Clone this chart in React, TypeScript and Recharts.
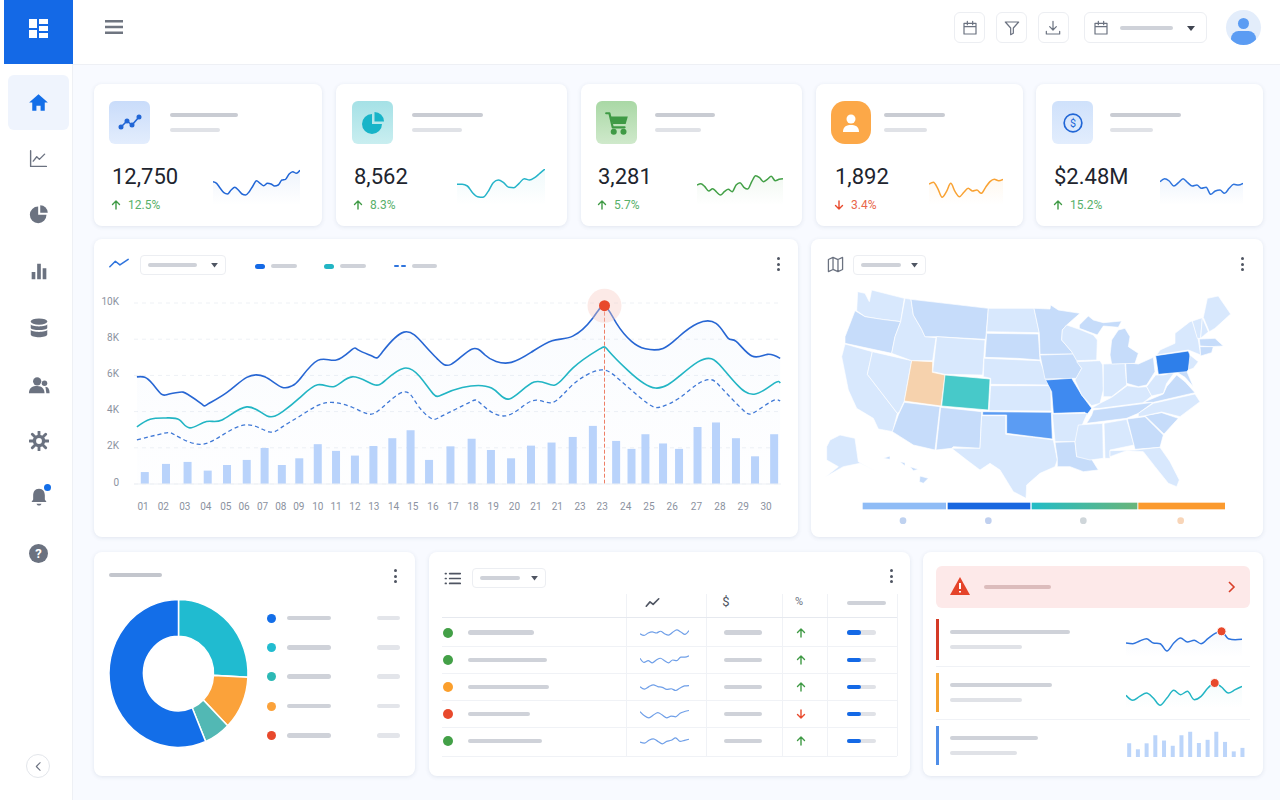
import React from "react";
import {
  ComposedChart, Bar, Line, Area, XAxis, YAxis, CartesianGrid, ReferenceLine, ReferenceDot,
  AreaChart, LineChart, BarChart, PieChart, Pie, Cell,
} from "recharts";

// ---------- main chart ----------
const dayLabels = ["01","02","03","04","05","06","07","08","09","10","11","12","13","14","15","16","17","18","19","20","21","21","23","23","24","25","26","27","28","29","30"];
const labelDays = [1,1.97,3.01,4.02,4.98,5.86,6.75,7.63,8.5,9.41,10.29,11.2,12.11,13.06,13.99,14.96,15.92,16.89,17.86,18.88,19.92,20.95,22.04,23.11,24.24,25.36,26.48,27.65,28.78,29.9,31];
const barDays = [1.08,2.1,3.14,4.11,5.04,5.99,6.85,7.68,8.52,9.41,10.29,11.2,12.09,13,13.88,14.77,15.8,16.82,17.75,18.72,19.68,20.67,21.69,22.66,23.78,24.52,25.19,26.04,26.81,27.7,28.59,29.55,30.47,31.39];
const barValues = [0.66,1.11,1.22,0.74,1.05,1.33,1.99,1.05,1.42,2.2,1.83,1.57,2.1,2.53,2.97,1.33,2.08,2.5,1.88,1.42,2.12,2.29,2.6,3.21,2.38,1.94,2.75,2.24,1.94,3.15,3.4,2.53,1.53,2.75];
const blueDays = [0.7,1.08,1.45,1.88,2.21,2.75,3.14,3.83,4.11,5.04,5.99,6.86,7.68,8.16,8.52,9.41,10.3,11.07,11.4,12.09,12.48,13.56,14.53,15.18,15.83,16.82,17.45,18,18.73,19.68,20.7,21.69,22.66,23.22,23.79,24.52,25.19,26.04,26.81,27.7,28.59,29.17,29.56,30.32,31.07,31.68];
const blueValues = [5.92,5.9,5.54,4.96,4.96,5.07,4.96,4.41,4.41,5.06,5.89,5.92,5.35,5.42,5.76,6.83,6.85,7.44,7.38,7.03,7.23,8.39,7.69,6.9,6.61,7.45,7.14,6.77,6.72,7.27,7.92,8.17,9.17,9.85,8.89,7.88,7.47,7.49,8.15,8.87,8.87,8.06,7.88,7.07,7.16,6.94];
const tealDays = [0.7,1.34,2.1,2.75,3.25,4.05,4.8,5.99,6.97,7.72,8.52,9.41,10.21,11.07,12.09,12.7,13.56,14.32,14.97,15.4,16.37,17.78,18.64,19.83,20.8,21.69,22.97,23.4,24.37,25.67,26.81,27.7,28.37,28.91,29.56,30.43,31.4,31.68];
const tealValues = [3.16,3.58,3.65,3.54,3.1,3.45,3.54,4.26,3.76,4,4.74,5.48,5.39,5.92,5.5,5.76,6.4,5.94,4.98,4.93,5.33,5.3,4.7,5.63,5.46,6.4,7.45,7.38,6.25,5.3,5.94,6.73,6.92,6.4,5.54,4.96,5.57,5.57];
const dashDays = [0.7,1.99,2.53,3.61,4.7,5.99,7.07,7.72,8.52,9.41,10.21,11.07,11.83,12.48,13.56,14.21,14.86,15.4,16.7,17.24,18.43,19.72,20.7,21.69,22.97,23.94,25.24,25.93,26.81,27.7,28.37,28.91,29.88,30.43,31.29,31.68];
const dashValues = [2.44,2.8,2.71,2.2,2.62,3.27,2.88,3.17,3.73,4.34,4.5,4.24,3.87,4.19,5.09,4.37,3.63,3.76,4.5,4.46,3.76,4.59,4.5,5.48,6.29,5.76,4.5,4.26,4.74,5.52,5.76,5.24,4.1,3.95,4.58,4.58];
const peakDay = 23.22;
const peakValue = 9.85;
const yTicks = [0,2,4,6,8,10];

const barRows = barDays.map((day, i) => ({ day, visits: barValues[i] }));
const zip = (days: number[], vals: number[]) => days.map((day, i) => ({ day, v: vals[i] }));

// ---------- KPI cards ----------
const kpiValues = ["12,750","8,562","3,281","1,892","$2.48M"];
const kpiChanges = ["12.5%","8.3%","5.7%","3.4%","15.2%"];
const spark1 = [70,65,50,37,33,45,53,45,33,30,40,57,73,65,58,65,63,57,60,75,77,93,100,95,104];
const spark2 = [62,62,57,37,25,23,40,67,75,67,53,52,65,79,75,82,95,108];
const spark3 = [60,64,55,42,49,39,30,40,47,40,60,67,53,48,70,88,82,70,77,86,73,77,79];
const spark4 = [63,68,50,23,40,65,40,25,38,50,42,45,35,53,70,77,73,77];
const spark5 = [70,79,72,57,67,79,67,57,60,50,53,32,42,45,35,50,62,60,65];

// ---------- donut ----------
const donutNames = ["Teal","Orange","Sea","Blue"];
const donutValues = [25.8,11.7,6.1,56.4];
const donutColors = ["#20bbd0","#fba23a","#52b8b4","#136ee8"];

// ---------- table ----------
const rowSparks = [
  [18,13,20,23,20,25,18,14,22,29,23,16,27],
  [25,13,18,12,20,25,18,12,20,18,28,28,32],
  [21,14,21,26,21,19,13,15,10,17,23,24],
  [27,15,9,17,24,17,9,14,12,22,27,30],
  [17,14,22,26,19,12,19,22,29,19,22,25],
];
const rowColors = ["#43a047","#43a047","#fb9f2c","#e8492c","#43a047"];
const rowUp = [true,true,true,false,true];
const rowPillEnds = [534,547,549,530,542];

// ---------- alerts ----------
const alertA = [42,40,48,55,42,40,18,42,57,45,50,40,55,70,77,55,52,53];
const alertB = [38,23,35,45,30,8,30,53,40,50,25,35,60,75,63,45,55,65];
const alertC = [39,22,39,62,47,32,62,72,40,49,72,43,16,26];

// ---------- map ----------
const L = "#d8e8fd", M = "#c6dcfa";
const mapStates: [string, string, string][] = [
  ["WA",L,"143,155 165,160 178,185 185,150 283,175 272,245 215,238 165,230 140,212"],
  ["OR",M,"135,212 165,230 215,238 272,245 255,290 245,340 105,310 105,290"],
  ["CA",L,"95,350 105,312 187,335 172,403 262,520 248,575 205,567 190,535 140,505 115,450"],
  ["NV",L,"187,335 305,362 283,483 268,515 262,520 172,403"],
  ["ID",L,"285,175 303,178 310,225 335,268 345,290 378,293 368,362 305,362 245,340 255,290 272,245"],
  ["MT",M,"303,178 535,205 527,298 378,290 345,290 335,268 310,225"],
  ["WY",L,"380,290 525,300 518,405 405,403 368,395"],
  ["UT","#f6d2ad","305,362 368,365 367,397 405,405 393,498 283,483"],
  ["CO","#47c9c9","405,405 540,417 535,510 395,498"],
  ["AZ",M,"283,487 390,500 375,630 310,615 247,575 265,525"],
  ["NM",M,"392,502 515,515 510,625 430,620 425,625 378,630"],
  ["ND",L,"535,205 672,205 688,278 530,275"],
  ["SD",M,"530,280 685,282 690,360 622,355 525,352"],
  ["NE",L,"522,355 690,362 705,400 722,435 542,433 542,415 520,410"],
  ["KS",L,"542,437 722,437 724,513 537,512"],
  ["OK","#5b9cf3","518,515 724,517 727,597 670,590 590,580 590,525 518,525"],
  ["TX",L,"515,527 587,527 587,583 670,592 730,600 742,660 735,680 690,700 650,735 648,775 610,755 570,690 540,670 510,690 470,660 425,625 510,625"],
  ["MN",M,"672,205 720,207 722,195 745,210 810,220 770,255 757,270 755,300 785,335 790,342 690,343 688,280"],
  ["IA",M,"690,345 790,342 815,385 800,415 705,417"],
  ["MO","#3f8af0","707,420 785,415 815,465 845,505 830,525 825,517 730,520 725,455"],
  ["AR",L,"727,522 832,520 810,570 795,605 735,605"],
  ["LA",M,"735,607 795,605 800,650 840,650 865,690 820,695 780,680 742,680 742,655"],
  ["WI",L,"757,270 770,255 808,268 850,285 862,300 860,360 800,362 785,335 755,300"],
  ["IL",L,"800,365 870,362 878,375 880,450 870,490 845,497 815,465 795,420 815,385"],
  ["IN",L,"880,372 945,370 950,435 905,470 880,470"],
  ["OH",M,"947,368 985,372 1030,352 1035,395 1010,435 985,440 950,430"],
  ["MI",M,"900,345 905,300 925,270 945,265 960,290 955,320 985,340 975,370 905,372"],
  ["MIU",M,"808,255 835,228 850,240 880,248 935,243 925,262 880,258 862,285 808,265"],
  ["KY",L,"845,505 870,490 905,472 952,437 985,442 1010,440 1025,468 1000,488 870,505"],
  ["TN",M,"830,550 845,525 850,510 1030,487 985,520 950,535"],
  ["MS",L,"805,555 878,550 880,655 840,660 800,650 795,605"],
  ["AL",L,"882,550 950,538 972,615 900,630 900,655 885,655"],
  ["GA",M,"952,537 1005,530 1060,585 1050,622 975,628"],
  ["FL",L,"900,632 975,630 1050,622 1080,665 1108,720 1100,740 1075,730 1035,680 1000,635 950,632 900,650"],
  ["SC",M,"1005,527 1055,518 1105,535 1062,582"],
  ["NC",L,"985,520 1030,490 1155,462 1170,485 1110,530 1055,516 1005,527 985,530"],
  ["VA",M,"1000,487 1060,462 1070,440 1100,405 1125,425 1155,458 1030,487"],
  ["WV",L,"1010,440 1037,405 1060,405 1095,395 1070,430 1060,460 1025,468"],
  ["MD",M,"1060,403 1130,393 1150,440 1125,412 1095,393"],
  ["PA","#2e7fea","1037,347 1135,333 1150,372 1130,395 1045,403"],
  ["NJ",L,"1140,345 1165,365 1150,385 1135,390"],
  ["NY",L,"1050,330 1095,310 1095,280 1140,245 1147,243 1165,300 1172,345 1135,330 1040,345"],
  ["VT",L,"1147,243 1177,233 1172,295 1162,295"],
  ["NH",L,"1177,233 1195,275 1172,295"],
  ["ME",L,"1192,175 1225,168 1262,222 1215,265 1198,275 1180,232"],
  ["MA",M,"1168,297 1215,295 1240,318 1200,320 1170,318"],
  ["CT",M,"1170,320 1210,320 1205,338 1172,348"],
  ["AK",L,"60,600 90,585 135,595 145,665 200,695 150,670 100,680 45,712 85,680 50,660 50,620"],
  ["HI1",M,"220,655 240,648 240,658"],
  ["HI2",M,"270,665 285,668 285,678"],
  ["HI3",M,"300,680 325,688 310,692"],
  ["HI4",M,"330,708 355,715 340,730 328,725"],
];

const FONT = "Roboto, sans-serif";

const box = (x: number, y: number, w: number, h: number, extra: React.CSSProperties = {}): React.CSSProperties => ({
  position: "absolute", left: x, top: y, width: w, height: h, ...extra,
});

const Pill = ({ x1, x2, y, c = "#cfd2d9", h = 5 }: { x1: number; x2: number; y: number; c?: string; h?: number }) => (
  <div style={box(x1, y - h / 2, x2 - x1, h, { background: c, borderRadius: h })} />
);

const Card = ({ x1, x2, y1, y2 }: { x1: number; x2: number; y1: number; y2: number }) => (
  <div style={box(x1, y1, x2 - x1, y2 - y1, { background: "#fff", borderRadius: 8, boxShadow: "0 1px 4px rgba(60,80,120,0.12)" })} />
);

const Ico = ({ cx, cy, s = 20, children, color = "#6b7280", vb = 24 }: any) => (
  <svg viewBox={`0 0 ${vb} ${vb}`} style={box(cx - s / 2, cy - s / 2, s, s)} fill="none" stroke={color} strokeWidth={2} strokeLinecap="round" strokeLinejoin="round">{children}</svg>
);

const Kebab = ({ x, y }: { x: number; y: number }) => (
  <>{[-5.3, 0, 5.3].map((d) => <div key={d} style={box(x - 1.5, y + d - 1.5, 3, 3, { background: "#4f5562", borderRadius: 3 })} />)}</>
);

const Dropdown = ({ x1, x2, y1, pillEnd }: { x1: number; x2: number; y1: number; pillEnd: number }) => (
  <>
    <div style={box(x1, y1, x2 - x1, 20, { background: "#fff", border: "1px solid #eceef2", borderRadius: 4, boxSizing: "border-box" })} />
    <Pill x1={x1 + 8} x2={pillEnd} y={y1 + 10} h={4} />
    <svg style={box(x2 - 15.5, y1 + 8, 7, 4.5)} viewBox="0 0 9 6"><path d="M0 0H9L4.5 6Z" fill="#4f5562" /></svg>
  </>
);

const Spark = ({ data, x, y, w, h, color, id, max = 108 }: any) => {
  const rows = data.map((v: number, i: number) => ({ i, v }));
  return (
    <div style={box(x, y, w, h)}>
      <AreaChart width={w} height={h} data={rows} margin={{ top: 0, right: 0, bottom: 0, left: 0 }}>
        <defs>
          <linearGradient id={id} x1="0" y1="0" x2="0" y2="1">
            <stop offset="0" stopColor={color} stopOpacity={0.12} />
            <stop offset="1" stopColor={color} stopOpacity={0} />
          </linearGradient>
        </defs>
        <XAxis dataKey="i" hide type="number" domain={["dataMin", "dataMax"]} />
        <YAxis hide domain={[0, max]} />
        <Area type="monotone" dataKey="v" stroke={color} strokeWidth={1.5} fill={`url(#${id})`} isAnimationActive={false} dot={false} />
      </AreaChart>
    </div>
  );
};

const RowSpark = ({ data, cy }: { data: number[]; cy: number }) => {
  const rows = data.map((v, i) => ({ i, v }));
  return (
    <div style={box(640, cy - 7, 49, 14)}>
      <LineChart width={49} height={14} data={rows} margin={{ top: 0, right: 0, bottom: 0, left: 0 }}>
        <XAxis dataKey="i" hide type="number" domain={["dataMin", "dataMax"]} />
        <YAxis hide domain={[0, 40]} />
        <Line type="monotone" dataKey="v" stroke="#6f9fe8" strokeWidth={1.2} dot={false} isAnimationActive={false} />
      </LineChart>
    </div>
  );
};

const AlertSpark = ({ data, y, color, peak, id }: { data: number[]; y: number; color: string; peak: number; id: string }) => {
  const rows = data.map((v, i) => ({ i, v }));
  return (
    <div style={box(1126, y, 116, 30)}>
      <AreaChart width={116} height={30} data={rows} margin={{ top: 0, right: 0, bottom: 0, left: 0 }}>
        <defs>
          <linearGradient id={id} x1="0" y1="0" x2="0" y2="1">
            <stop offset="0" stopColor={color} stopOpacity={0.08} />
            <stop offset="1" stopColor={color} stopOpacity={0} />
          </linearGradient>
        </defs>
        <XAxis dataKey="i" hide type="number" domain={["dataMin", "dataMax"]} />
        <YAxis hide domain={[0, 90]} />
        <Area type="monotone" dataKey="v" stroke={color} strokeWidth={1.5} fill={`url(#${id})`} isAnimationActive={false} dot={false} />
        <ReferenceDot x={peak} y={data[peak]} r={4.5} fill="#e8492c" stroke="#fff" strokeWidth={1} ifOverflow="visible" />
      </AreaChart>
    </div>
  );
};

const NavIcons = () => (
  <>
    <Ico cx={38.5} cy={102} s={25} color="#136ee8"><path d="M3 12L12 4l9 8h-3v8h-4v-5h-4v5H6v-8z" fill="#136ee8" stroke="none" /></Ico>
    <Ico cx={38.5} cy={158} s={21}><path d="M3 3v18h18M6 15l4-5 3 3 6-6" strokeWidth={1.6} /></Ico>
    <Ico cx={38.5} cy={214} s={20}><path d="M11 3a10 10 0 1 0 10 10H11z" fill="#6b7280" stroke="none" /><path d="M13.5 1.5a9 9 0 0 1 9 9h-9z" fill="#6b7280" stroke="none" /></Ico>
    <Ico cx={38.5} cy={271} s={22}><path d="M4 13h4v8H4zM10 4h4v17h-4zM16 9h4v12h-4z" fill="#6b7280" stroke="none" /></Ico>
    <Ico cx={38.5} cy={328} s={22}><ellipse cx="12" cy="5" rx="9" ry="3.5" fill="#6b7280" stroke="none" /><path d="M3 8c1 3 17 3 18 0v4c-1 3-17 3-18 0zM3 14c1 3 17 3 18 0v5c-1 4-17 4-18 0z" fill="#6b7280" stroke="none" /></Ico>
    <Ico cx={38.5} cy={385} s={22}><circle cx="10" cy="8" r="4.5" fill="#6b7280" stroke="none" /><path d="M1 21c0-6 4-8 9-8s8 3 8 8z" fill="#6b7280" stroke="none" /><circle cx="18" cy="10" r="3" fill="#6b7280" stroke="none" /><path d="M19 14c3 0 4.5 3 4.5 7H20z" fill="#6b7280" stroke="none" /></Ico>
    <Ico cx={38.5} cy={441} s={20}><circle cx="12" cy="12" r="5.5" strokeWidth={4} /><path d="M12 1v4M12 19v4M1 12h4M19 12h4M4 4l3 3M17 17l3 3M20 4l-3 3M7 17l-3 3" strokeWidth={3.4} /></Ico>
    <Ico cx={38.5} cy={497} s={20}><path d="M12 2c-5 0-7 4-7 8v5l-2 3h18l-2-3v-5c0-4-2-8-7-8z" fill="#6b7280" stroke="none" /><path d="M9 20c1 3 5 3 6 0z" fill="#6b7280" stroke="none" /></Ico>
    <div style={box(44, 484, 7, 7, { background: "#136ee8", borderRadius: 4 })} />
    <svg style={box(29, 544, 19, 19)} viewBox="0 0 19 19"><circle cx="9.5" cy="9.5" r="9.5" fill="#6b7280" /><text x="9.5" y="14" textAnchor="middle" fontSize="13" fontWeight="700" fontFamily={FONT} fill="#fff">?</text></svg>
    <div style={box(26, 754, 24, 24, { background: "#fff", border: "1px solid #e3e6eb", borderRadius: 12, boxSizing: "border-box" })} />
    <Ico cx={38} cy={766} s={13}><path d="M15 5l-7 7 7 7" /></Ico>
  </>
);

const KPI_LAYOUT = [
  { card: [94,322], tile: [109,150], tileBg: "linear-gradient(#c9dcfa,#e3edfd)", p1: [170,238], p2: [170,220], vx: 112, sx: 213, sw: 87, color: "#2166d6", spark: spark1 },
  { card: [336,567], tile: [352,393], tileBg: "linear-gradient(#a5e1e6,#c9eef0)", p1: [412,483], p2: [412,462], vx: 354, sx: 457, sw: 88, color: "#25b4c9", spark: spark2 },
  { card: [581,802], tile: [596,637], tileBg: "linear-gradient(#a9d8a5,#cfe9cb)", p1: [655,715], p2: [655,701], vx: 598, sx: 697, sw: 86, color: "#43a047", spark: spark3 },
  { card: [816,1023], tile: [831,871], tileBg: "#fca848", p1: [884,945], p2: [884,927], vx: 835, sx: 929, sw: 74, color: "#f9a233", spark: spark4 },
  { card: [1036,1263], tile: [1052,1093], tileBg: "linear-gradient(#cfe1fb,#e2edfd)", p1: [1110,1181], p2: [1110,1153], vx: 1054, sx: 1160, sw: 83, color: "#2f74dd", spark: spark5 },
];

const KpiIcon = ({ i, cx }: { i: number; cx: number }) => {
  const cy = 122.5;
  if (i === 0) return <Ico cx={cx} cy={cy} s={24} color="#2166d6"><path d="M3 16l6-6 5 4 7-8" strokeWidth={1.6} /><circle cx="3" cy="16" r="1.5" fill="#2166d6" /><circle cx="9" cy="10" r="1.5" fill="#2166d6" /><circle cx="14" cy="14" r="1.5" fill="#2166d6" /><circle cx="21" cy="6" r="1.5" fill="#2166d6" /></Ico>;
  if (i === 1) return <Ico cx={cx} cy={cy} s={24}><path d="M11 3a10 10 0 1 0 10 10H11z" fill="#18b4c8" stroke="none" /><path d="M13.5 1a9.5 9.5 0 0 1 9.5 9.5h-9.500z" fill="#18b4c8" stroke="none" /></Ico>;
  if (i === 2) return <Ico cx={cx} cy={cy} s={26} color="#3f9a45"><path d="M2 3h3l3 13h11" strokeWidth={2} /><path d="M6 6h16l-2 7H8z" fill="#3f9a45" stroke="none" /><circle cx="9" cy="20" r="1.8" fill="#3f9a45" /><circle cx="18" cy="20" r="1.8" fill="#3f9a45" /></Ico>;
  if (i === 3) return <Ico cx={cx} cy={cy} s={24}><circle cx="12" cy="8" r="4.5" fill="#fff" stroke="none" /><path d="M4 21c0-6 4-7 8-7s8 1 8 7z" fill="#fff" stroke="none" /></Ico>;
  return <svg style={box(cx - 10, cy - 10, 20, 20)} viewBox="0 0 26 26"><circle cx="13" cy="13" r="11.5" fill="none" stroke="#2166d6" strokeWidth="2.2" /><text x="13" y="18" textAnchor="middle" fontSize="14" fontFamily={FONT} fill="#2166d6">$</text></svg>;
};

const Arrow = ({ x, y, up, c }: { x: number; y: number; up: boolean; c: string }) => (
  <svg style={box(x - 5, y - 5, 10, 10)} viewBox="0 0 10 10" fill="none" stroke={c} strokeWidth="1.4" strokeLinecap="round" strokeLinejoin="round">
    {up ? <path d="M5 9V1M1.5 4.5L5 1l3.5 3.5" /> : <path d="M5 1v8M1.5 5.5L5 9l3.5-3.5" />}
  </svg>
);

const FixedBar = (p: any) => (
  <rect x={p.x + p.width / 2 - 4} y={p.y} width={8} height={p.height} fill="#b9d3fb" />
);

const MainChart = () => (
  <div style={box(94, 240, 704, 300)}>
    <ComposedChart width={704} height={300} data={barRows} margin={{ top: 63, right: 17, bottom: 26, left: 0 }}>
      <defs>
        <linearGradient id="mainFill" x1="0" y1="0" x2="0" y2="1">
          <stop offset="0" stopColor="#3b82e8" stopOpacity={0.05} />
          <stop offset="1" stopColor="#3b82e8" stopOpacity={0.01} />
        </linearGradient>
      </defs>
      <CartesianGrid vertical={false} stroke="#eef1f5" strokeDasharray="4 4" />
      <XAxis
        dataKey="day" type="number" domain={[0.56, 31.72]} allowDataOverflow ticks={labelDays} interval={0} height={30}
        tickFormatter={(_v: number, i: number) => dayLabels[i]} axisLine={{ stroke: "#eef1f5" }} tickLine={false}
        tick={{ fill: "#8b92a0", fontSize: 10, fontFamily: FONT }} tickMargin={13}
      />
      <YAxis
        width={40} domain={[0, 10]} ticks={yTicks} tickFormatter={(v: number) => (v === 0 ? "0" : `${v}K`)} axisLine={false} tickLine={false}
        tick={{ fill: "#8b92a0", fontSize: 10, fontFamily: FONT, dy: -2 }} tickMargin={9}
      />
      <Area data={zip(blueDays, blueValues)} dataKey="v" type="natural" stroke="none" fill="url(#mainFill)" isAnimationActive={false} />
      <Bar dataKey="visits" fill="#b9d3fb" shape={FixedBar} isAnimationActive={false} />
      <Line data={zip(blueDays, blueValues)} dataKey="v" type="natural" stroke="#2766d3" strokeWidth={1.6} dot={false} isAnimationActive={false} />
      <Line data={zip(tealDays, tealValues)} dataKey="v" type="natural" stroke="#22b5c4" strokeWidth={1.6} dot={false} isAnimationActive={false} />
      <Line data={zip(dashDays, dashValues)} dataKey="v" type="natural" stroke="#3f78d6" strokeWidth={1.3} strokeDasharray="4 3" dot={false} isAnimationActive={false} />
      <ReferenceLine segment={[{ x: peakDay, y: peakValue }, { x: peakDay, y: 0 }]} stroke="#ee7f66" strokeDasharray="4 2" strokeWidth={1} />
      <ReferenceDot x={peakDay} y={peakValue} r={17} fill="#f6c9c0" fillOpacity={0.38} stroke="none" ifOverflow="visible" />
      <ReferenceDot x={peakDay} y={peakValue} r={5.5} fill="#e8492c" stroke="none" ifOverflow="visible" />
    </ComposedChart>
  </div>
);

const UsMap = () => (
  <svg style={box(810, 240, 454, 300)} viewBox="0 0 1362 900">
    {mapStates.map(([id, c, pts]) => (
      <polygon key={id} points={pts} fill={c} stroke="#fff" strokeWidth={2} strokeLinejoin="round" />
    ))}
    <defs>
      <linearGradient id="legendTeal"><stop offset="0" stopColor="#22bcc6" /><stop offset="1" stopColor="#69b57a" /></linearGradient>
    </defs>
    <rect x={158} y={788} width={250} height={20} fill="#8fbcf6" />
    <rect x={413} y={788} width={248} height={20} fill="#1867e0" />
    <rect x={665} y={788} width={317} height={20} fill="url(#legendTeal)" />
    <rect x={985} y={788} width={260} height={20} fill="#fb9a2f" />
    <circle cx={279} cy={842} r={10} fill="#bfd2f0" />
    <circle cx={535} cy={842} r={10} fill="#c0d0ef" />
    <circle cx={820} cy={842} r={10} fill="#cfd6da" />
    <circle cx={1112} cy={842} r={10} fill="#f8d5b8" />
  </svg>
);

const Donut = () => (
  <div style={{ ...box(104, 599, 150, 150), transform: "scaleY(1.065)", transformOrigin: "50% 50%" }}>
    <PieChart width={150} height={150} margin={{ top: 0, right: 0, bottom: 0, left: 0 }}>
      <Pie
        data={donutNames.map((name, i) => ({ name, value: donutValues[i] }))} dataKey="value" cx={74.5} cy={74.5}
        innerRadius={35} outerRadius={69.5} startAngle={90} endAngle={-270} stroke="#fff" strokeWidth={1.5} isAnimationActive={false}
      >
        {donutNames.map((n, i) => <Cell key={n} fill={donutColors[i]} />)}
      </Pie>
    </PieChart>
  </div>
);

export default function App() {
  const tableRowsY = [632.7, 660, 687, 714, 741];
  return (
    <div style={{ position: "fixed", left: 0, top: 0, width: 1280, height: 800, overflow: "hidden", background: "#f8faff", fontFamily: FONT }}>
      {/* header + sidebar */}
      <div style={box(0, 0, 1280, 65, { background: "#fff", borderBottom: "1px solid #eef0f5", boxSizing: "border-box" })} />
      <div style={box(0, 0, 73, 800, { background: "#fff", borderRight: "1px solid #eef0f5", boxSizing: "border-box" })} />
      <div style={box(4, 0, 69, 64, { background: "#1469e6" })} />
      <svg style={box(29, 19, 19, 19)} viewBox="0 0 19 19"><path d="M0 0h8v9H0zM10 0h9v5h-9zM0 11h8v8H0zM10 7h9v5h-9zM10 14h9v5h-9z" fill="#fff" /></svg>
      <div style={box(8, 75, 61, 55, { background: "#eff4fd", borderRadius: 6 })} />
      <NavIcons />
      <svg style={box(105, 20, 18, 14)} viewBox="0 0 18 14"><path d="M0 1.2h18M0 7h18M0 12.800h18" stroke="#6f7580" strokeWidth="2.400" /></svg>

      {/* top right */}
      {[954, 996, 1038].map((x) => <div key={x} style={box(x, 12, 31, 31, { background: "#fff", border: "1px solid #eceef2", borderRadius: 6, boxSizing: "border-box" })} />)}
      <Ico cx={970} cy={28} s={16}><path d="M3 5h18v16H3zM3 10h18M8 2v5M16 2v5" strokeWidth={1.8} /></Ico>
      <Ico cx={1012} cy={28} s={16}><path d="M2 3h20l-8 9v8l-4 2V12z" strokeWidth={1.8} /></Ico>
      <Ico cx={1053} cy={28} s={16}><path d="M12 2v13M7 10l5 5 5-5M2 17v4h20v-4" strokeWidth={1.8} /></Ico>
      <div style={box(1084, 12, 123, 31, { background: "#fff", border: "1px solid #eceef2", borderRadius: 6, boxSizing: "border-box" })} />
      <Ico cx={1101} cy={28} s={16}><path d="M3 5h18v16H3zM3 10h18M8 2v5M16 2v5" strokeWidth={1.8} /></Ico>
      <Pill x1={1120} x2={1173} y={27.5} h={4} />
      <svg style={box(1187, 25.5, 8, 5)} viewBox="0 0 10 6"><path d="M0 0H10L5 6Z" fill="#3f4450" /></svg>
      <div style={box(1226, 10, 35, 35, { background: "#e3edfb", borderRadius: 18, overflow: "hidden" })}>
        <div style={box(12, 8, 11, 11, { background: "#5b9cf3", borderRadius: 6 })} />
        <div style={box(5, 21, 25, 14, { background: "#5b9cf3", borderRadius: "12px 12px 10px 10px" })} />
      </div>

      {/* KPI cards */}
      {KPI_LAYOUT.map((k, i) => (
        <React.Fragment key={i}>
          <Card x1={k.card[0]} x2={k.card[1]} y1={84} y2={226} />
          <div style={box(k.tile[0], 101, k.tile[1] - k.tile[0], 43, { background: k.tileBg, borderRadius: i === 3 ? 14 : 6 })} />
          <KpiIcon i={i} cx={(k.tile[0] + k.tile[1]) / 2} />
          <Pill x1={k.p1[0]} x2={k.p1[1]} y={114.5} h={4} c="#c9ccd3" />
          <Pill x1={k.p2[0]} x2={k.p2[1]} y={130} h={4} c="#e0e2e7" />
          <div style={{ ...box(k.vx, 163, 100, 28), fontSize: 22, lineHeight: "28px", color: "#20242e" }}>{kpiValues[i]}</div>
          <Arrow x={k.vx + 4} y={205} up={i !== 3} c={i === 3 ? "#e8492c" : "#3f9a45"} />
          <div style={{ ...box(k.vx + 16, 198, 60, 14), fontSize: 12, lineHeight: "14px", color: i === 3 ? "#e8664b" : "#58b06a" }}>{kpiChanges[i]}</div>
          <Spark data={k.spark} x={k.sx} y={169} w={k.sw} h={36} color={k.color} id={`spark${i}`} />
        </React.Fragment>
      ))}

      {/* main chart card */}
      <Card x1={94} x2={798} y1={239} y2={537} />
      <MainChart />
      <Ico cx={119} cy={264} s={22} color="#2f74dd"><path d="M2 15l6-6 5 4 9-6" strokeWidth={1.7} /></Ico>
      <Dropdown x1={140} x2={226} y1={255} pillEnd={197} />
      <Pill x1={255} x2={265} y={266} c="#1469e6" />
      <Pill x1={271} x2={297} y={266} h={4.5} />
      <Pill x1={324} x2={334} y={266} c="#22b5c4" />
      <Pill x1={340} x2={366} y={266} h={4.5} />
      <Pill x1={394} x2={399} y={266} c="#2f74dd" h={2} />
      <Pill x1={401} x2={406} y={266} c="#2f74dd" h={2} />
      <Pill x1={412} x2={437} y={266} h={4.5} />
      <Kebab x={778} y={264} />

      {/* map card */}
      <Card x1={811} x2={1263} y1={239} y2={537} />
      <UsMap />
      <Ico cx={835} cy={264} s={17}><path d="M2 5l6.5-3 7 3L22 2v17l-6.5 3-7-3L2 22zM8.5 2v17M15.5 5v17" strokeWidth={1.8} /></Ico>
      <Dropdown x1={853} x2={926} y1={255} pillEnd={901} />
      <Kebab x={1242} y={264} />

      {/* donut card */}
      <Card x1={94} x2={415} y1={552} y2={776} />
      <Pill x1={109} x2={162} y={574.5} h={4} c="#c3c6cd" />
      <Kebab x={395} y={576} />
      <Donut />
      {["#136ee8", "#22bcd0", "#2cb9b5", "#fba23a", "#e8492c"].map((c, i) => {
        const y = [618, 647.5, 676.7, 706, 735.7][i];
        return (
          <React.Fragment key={c}>
            <div style={box(266.5, y - 4.5, 9, 9, { background: c, borderRadius: 5 })} />
            <Pill x1={287} x2={331} y={y} h={4.5} />
            <Pill x1={377} x2={400} y={y} h={4.5} c="#e3e5ea" />
          </React.Fragment>
        );
      })}

      {/* table card */}
      <Card x1={429} x2={910} y1={552} y2={776} />
      <Ico cx={452} cy={578} s={17} color="#4f5562"><path d="M8 5h15M8 12h15M8 19h15M2 5h1M2 12h1M2 19h1" strokeWidth={2.4} /></Ico>
      <Dropdown x1={472} x2={546} y1={568} pillEnd={520} />
      <Kebab x={891} y={576} />
      {[626, 706, 782, 827, 897].map((x) => <div key={x} style={box(x, 594, 1, 162, { background: "#f0f2f6" })} />)}
      <div style={box(442, 616.5, 455, 1.5, { background: "#e6e9ef" })} />
      {[646, 673, 700, 727, 756].map((y) => <div key={y} style={box(442, y, 455, 1, { background: "#f0f2f6" })} />)}
      <Ico cx={652} cy={602} s={15} color="#4f5562"><path d="M2 18l6-7 5 4 9-9" strokeWidth={2.6} /></Ico>
      <div style={{ ...box(716, 594, 20, 16), fontSize: 13, lineHeight: "16px", color: "#4f5562", textAlign: "center" }}>$</div>
      <div style={{ ...box(789, 595, 20, 14), fontSize: 11, lineHeight: "14px", color: "#6b7280", textAlign: "center" }}>%</div>
      <Pill x1={847} x2={886} y={602.5} h={4} />
      {tableRowsY.map((y, i) => (
        <React.Fragment key={y}>
          <div style={box(443, y - 5, 10, 10, { background: rowColors[i], borderRadius: 5 })} />
          <Pill x1={468} x2={rowPillEnds[i]} y={y} h={4.5} />
          <RowSpark data={rowSparks[i]} cy={y} />
          <Pill x1={724} x2={762} y={y} h={4.5} />
          <Arrow x={801} y={y} up={rowUp[i]} c={rowUp[i] ? "#3f9a45" : "#e8492c"} />
          <Pill x1={847} x2={876} y={y} h={4.5} c="#e0e2e7" />
          <Pill x1={847} x2={861} y={y} h={4.5} c="#1469e6" />
        </React.Fragment>
      ))}

      {/* alert card */}
      <Card x1={923} x2={1263} y1={552} y2={776} />
      <div style={box(936, 566, 314, 42, { background: "#fde9e9", borderRadius: 6 })} />
      <svg style={box(950, 577, 20, 18)} viewBox="0 0 20 18"><path d="M10 0L20 18H0Z" fill="#e5432a" /><path d="M10 6v6M10 14v1.5" stroke="#fff" strokeWidth="2" /></svg>
      <Pill x1={984} x2={1051} y={586.7} h={4} c="#dcbcbc" />
      <svg style={box(1227, 581, 9, 12)} viewBox="0 0 9 12" fill="none"><path d="M2 1l5 5-5 5" stroke="#d9402a" strokeWidth="1.6" /></svg>
      <div style={box(936, 619, 2.5, 41, { background: "#d43a26" })} />
      <div style={box(936, 673, 2.5, 39, { background: "#f4a12f" })} />
      <div style={box(936, 726, 2.5, 39, { background: "#4f8ee8" })} />
      <Pill x1={950} x2={1070} y={631.7} h={4} />
      <Pill x1={950} x2={1022} y={647} h={4} c="#e0e2e7" />
      <Pill x1={950} x2={1052} y={685} h={4} />
      <Pill x1={950} x2={1022} y={700} h={4} c="#e0e2e7" />
      <Pill x1={950} x2={1038} y={738} h={4} />
      <Pill x1={950} x2={1017} y={753} h={4} c="#e0e2e7" />
      <div style={box(936, 666, 314, 1, { background: "#f0f2f6" })} />
      <div style={box(936, 719, 314, 1, { background: "#f0f2f6" })} />
      <AlertSpark data={alertA} y={627} color="#2f74dd" peak={14} id="alertFillA" />
      <AlertSpark data={alertB} y={678} color="#22b5c4" peak={13} id="alertFillB" />
      <div style={box(1125, 730, 122, 27)}>
        <BarChart width={122} height={27} data={alertC.map((v, i) => ({ i, v }))} margin={{ top: 0, right: 0, bottom: 0, left: 0 }} barCategoryGap="25%">
          <XAxis dataKey="i" hide />
          <YAxis hide domain={[0, 77]} />
          <Bar dataKey="v" fill="#bcd5fa" isAnimationActive={false} />
        </BarChart>
      </div>
    </div>
  );
}
